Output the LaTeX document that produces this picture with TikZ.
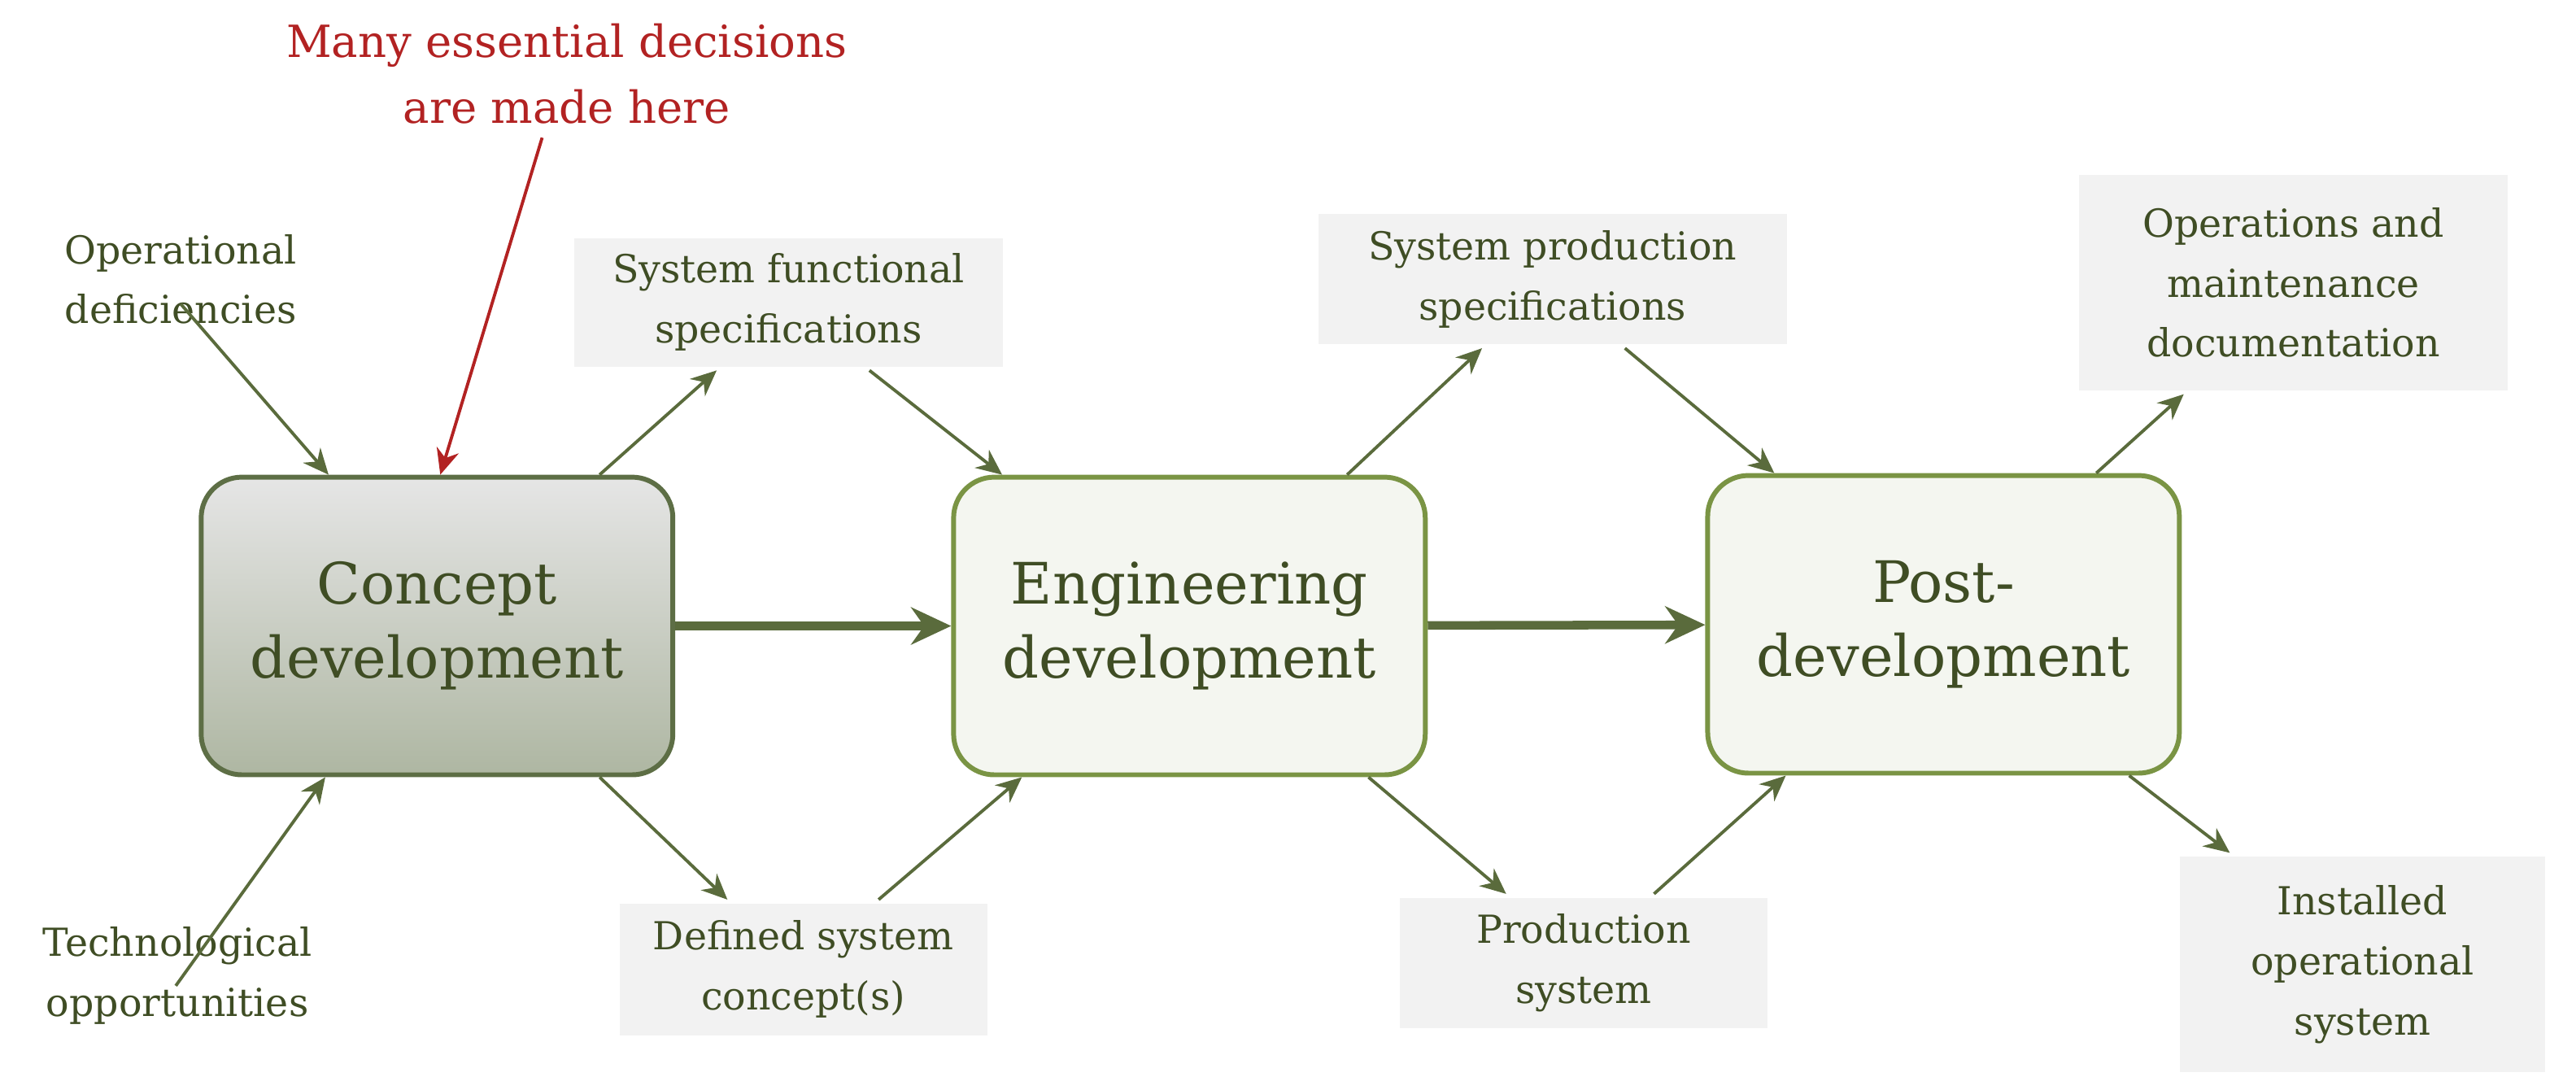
\documentclass[tikz,border=0pt]{standalone}
\usepackage{fontspec}
\setmainfont{DejaVu Serif}
\usetikzlibrary{arrows.meta, calc}
\definecolor{txtgreen}{HTML}{3F4D24}
\definecolor{linegreen}{HTML}{5A6B3C}
\definecolor{boxgreen}{HTML}{7A9444}
\definecolor{darkgreen}{HTML}{5D6E45}
\definecolor{decred}{HTML}{B22222}
\tikzstyle{phase} = [rectangle, rounded corners=0.5cm, minimum width=5.8cm, minimum height=3.66cm, align=center, text=txtgreen, font=\fontsize{20}{26}\selectfont, line width=1.7pt]
\tikzstyle{output} = [rectangle, fill=gray!10, align=center, text=txtgreen, font=\fontsize{13.5}{21}\selectfont, inner sep=0pt]
\tikzstyle{arrow} = [line width=1.1pt, draw=linegreen, -{Stealth[length=9pt,width=8pt]}]
\tikzstyle{bigarrow} = [line width=3pt, draw=linegreen, -{Stealth[length=14pt,width=13pt]}]
\begin{document}
\begin{tikzpicture}[x=0.0202cm, y=-0.0202cm]
        \useasboundingbox (0,0) rectangle (1568,663);
        \node (concept) [phase, draw=darkgreen, top color=gray!20, bottom color=darkgreen!50] at (266,381) {Concept\\development};
        \node (eng) [phase, draw=boxgreen, fill=boxgreen!8] at (724,381) {Engineering\\development};
        \node (post) [phase, draw=boxgreen, fill=boxgreen!8] at (1183,380) {Post-\\development};

        \node (funcspec) [output, minimum width=5.27cm, minimum height=1.58cm] at (480,184) {System functional\\specifications};
        \node (prodspec) [output, minimum width=5.76cm, minimum height=1.6cm] at (945,170) {System production\\specifications};
        \node (opsdoc) [output, minimum width=5.27cm, minimum height=2.65cm] at (1396,172) {Operations and\\maintenance\\documentation};
        \node (sysconcept) [output, minimum width=4.52cm, minimum height=1.62cm] at (489,590) {Defined system\\concept(s)};
        \node (prodsys) [output, minimum width=4.52cm, minimum height=1.6cm] at (964,586) {Production\\system};
        \node (installed) [output, minimum width=4.5cm, minimum height=2.65cm] at (1438,587) {Installed\\operational\\system};
        \node (deficiency) [output, fill=none] at (110,170) {Operational\\deficiencies};
        \node (techopp) [output, fill=none] at (108,594) {Technological\\opportunities};
        \node (decisions) [output, fill=none, text=decred, font=\fontsize{15.5}{23}\selectfont] at (345,45) {Many essential decisions\\are made here};

        % inputs
        \draw [arrow] (110,185) -- ($(concept.north)+(-66,0)$);
        \draw [arrow] (107,600) -- ($(concept.south)+(-68,0)$);
        \draw [line width=1.1pt, draw=decred, -{Stealth[length=9pt,width=8pt]}] (decisions.south) ++(-15,8) -- ($(concept.north)+(2,0)$);

        % outputs
        \draw [arrow] ($(concept.north)+(99,0)$) -- ($(funcspec.south west)+(87,2)$);
        \draw [arrow] ($(funcspec.south west)+(180,2)$) -- ($(eng.north)+(-114,0)$);
        \draw [arrow] ($(concept.south)+(99,0)$) -- ($(sysconcept.north west)+(66,-2)$);
        \draw [arrow] ($(sysconcept.north west)+(158,-2)$) -- ($(eng.south)+(-102,0)$);
        \draw [arrow] ($(eng.north)+(96,0)$) -- ($(prodspec.south west)+(100,2)$);
        \draw [arrow] ($(prodspec.south west)+(187,2)$) -- ($(post.north)+(-103,0)$);
        \draw [arrow] ($(eng.south)+(109,0)$) -- ($(prodsys.north west)+(65,-2)$);
        \draw [arrow] ($(prodsys.north west)+(155,-2)$) -- ($(post.south)+(-96,0)$);
        \draw [arrow] ($(post.north)+(93,0)$) -- ($(opsdoc.south west)+(64,2)$);
        \draw [arrow] ($(post.south)+(113,0)$) -- ($(installed.north west)+(31,-2)$);

        % main flow
        \draw [bigarrow] (concept) -- (eng);
        \draw [bigarrow] (eng) -- (post);
    \end{tikzpicture}
\end{document}
